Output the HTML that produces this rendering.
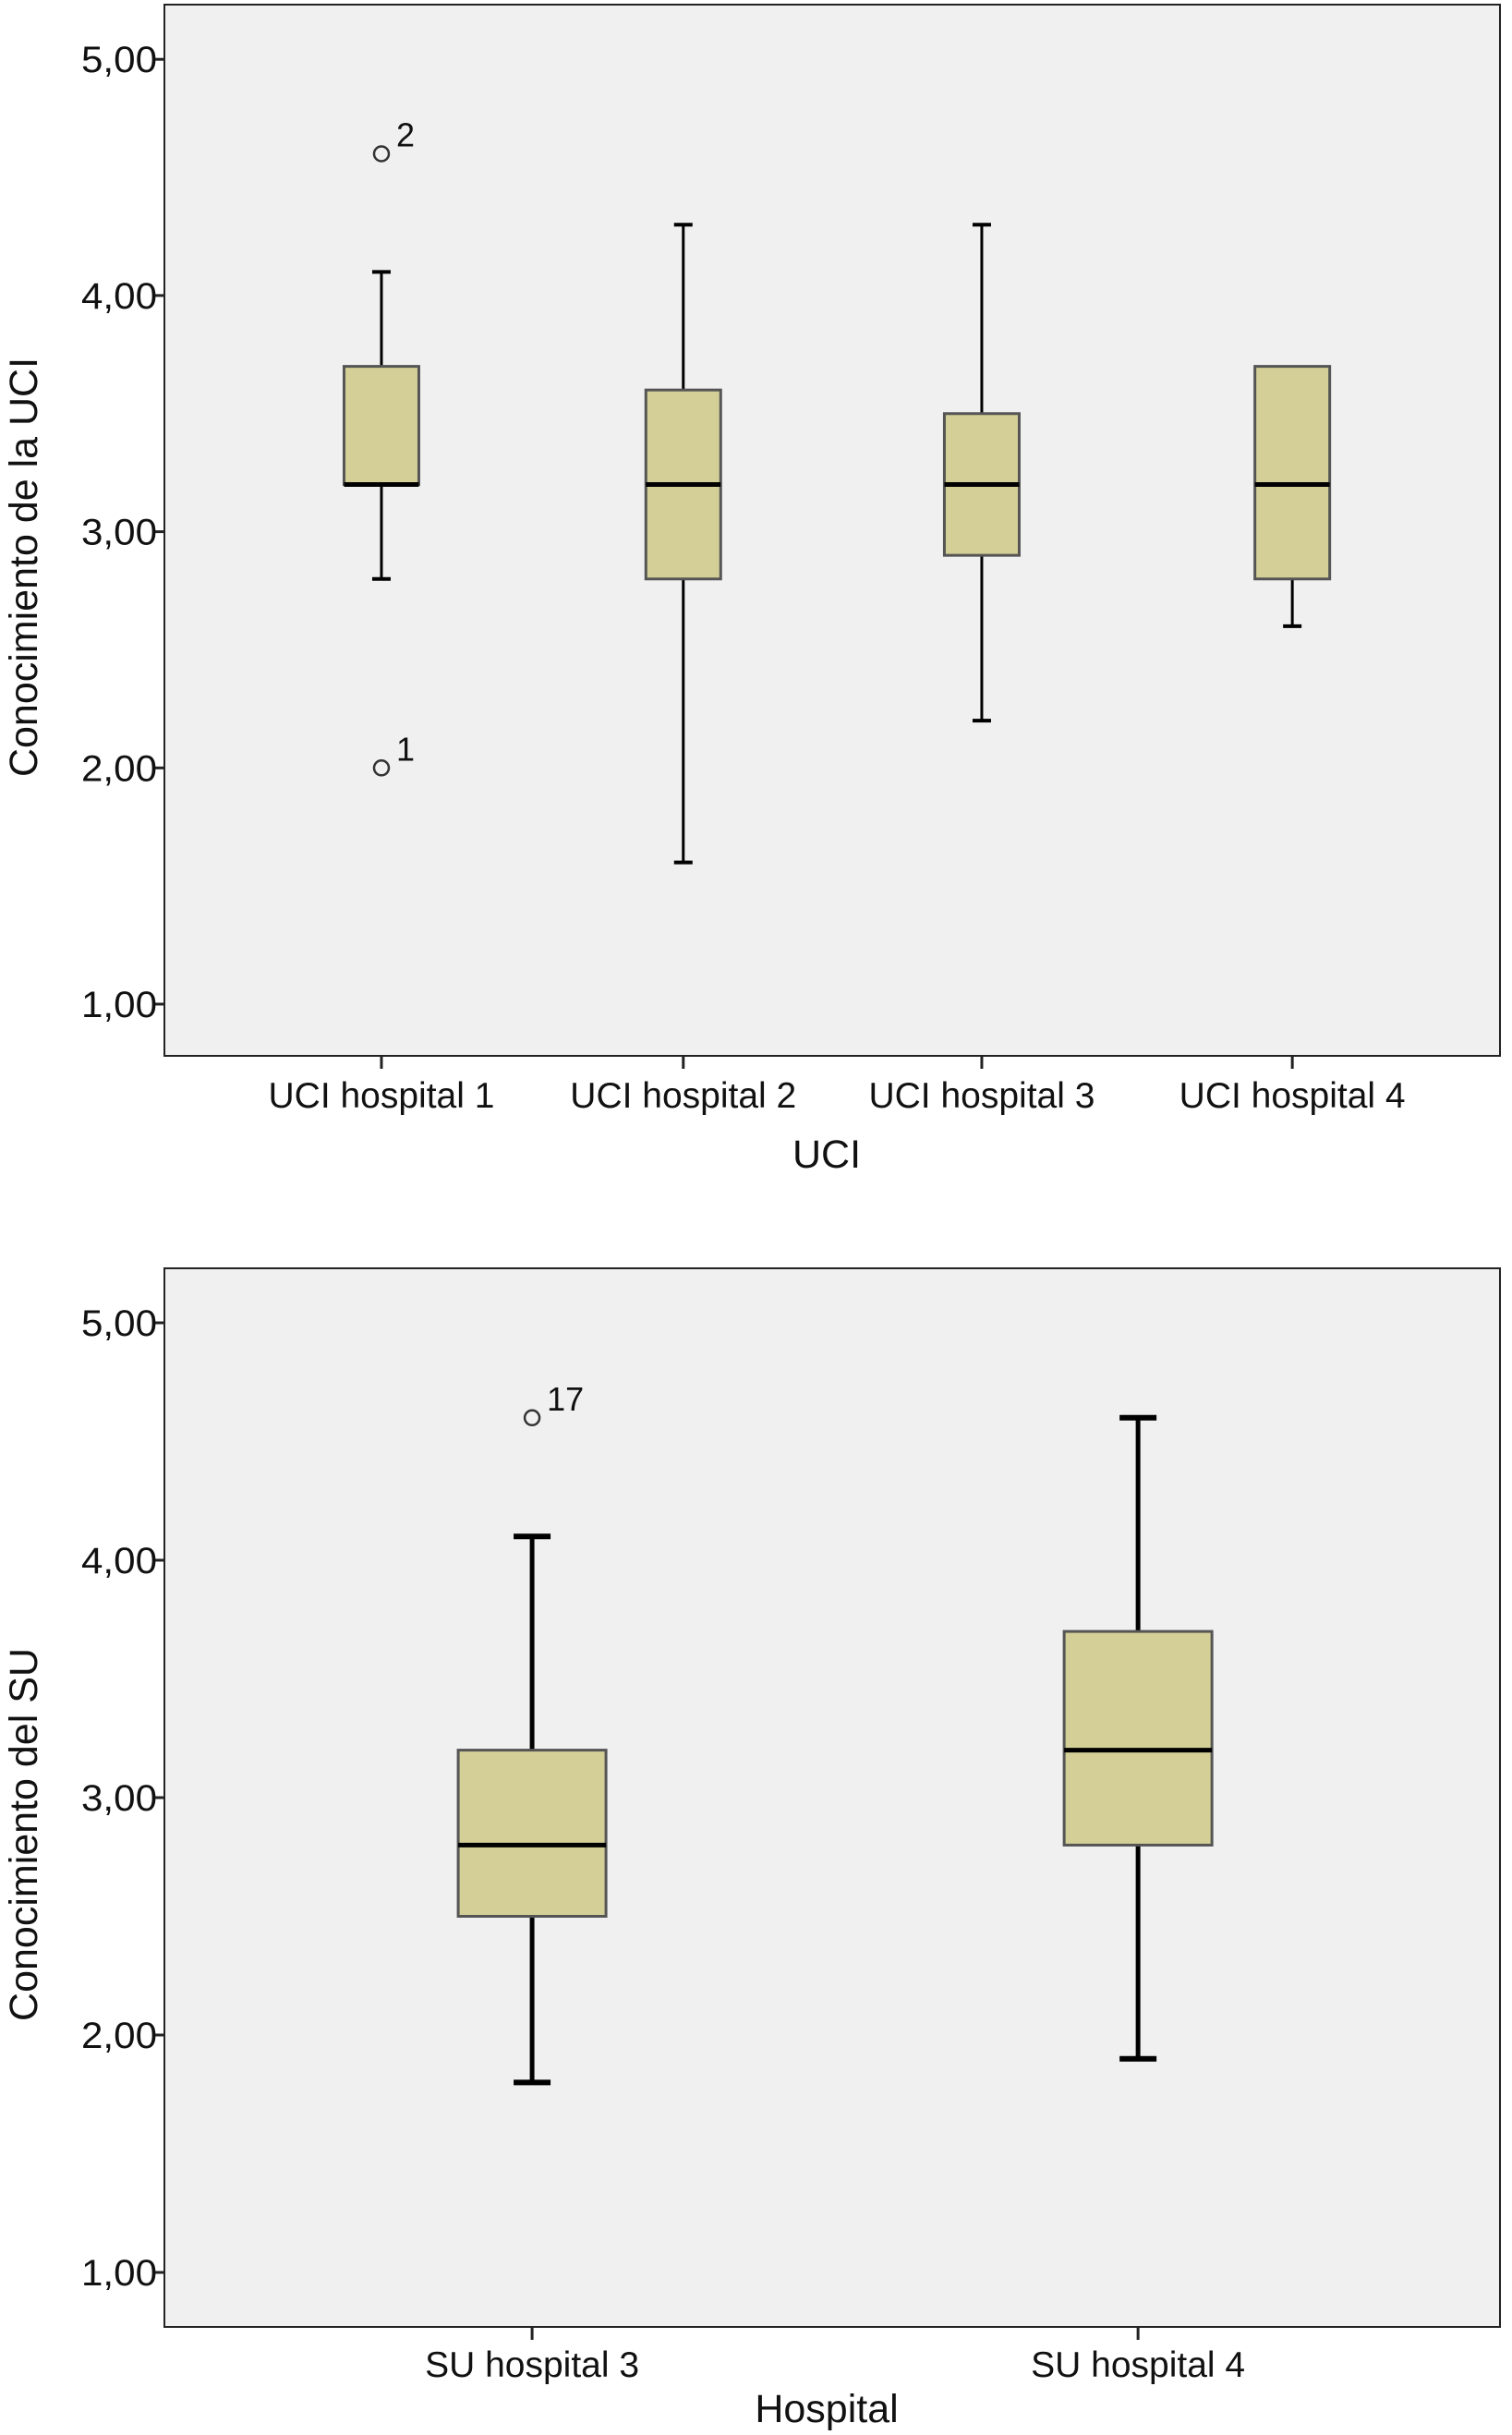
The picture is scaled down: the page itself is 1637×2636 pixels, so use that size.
<!DOCTYPE html>
<html><head><meta charset="utf-8">
<style>
html,body{margin:0;padding:0;background:#fff;}
svg{display:block;font-family:"Liberation Sans",sans-serif;}
</style></head>
<body>
<svg id="chart" width="1637" height="2636" viewBox="0 0 1637 2636" xmlns="http://www.w3.org/2000/svg"></svg>
<script>
// Top chart data
const topCategories = ["UCI hospital 1","UCI hospital 2","UCI hospital 3","UCI hospital 4"];
const topWhiskerLow = [2.8, 1.6, 2.2, 2.6];
const topQ1 = [3.2, 2.8, 2.9, 2.8];
const topMedian = [3.2, 3.2, 3.2, 3.2];
const topQ3 = [3.7, 3.6, 3.5, 3.7];
const topWhiskerHigh = [4.1, 4.3, 4.3, 3.7];
const topOutlierCat = [0, 0];
const topOutlierVal = [4.6, 2.0];
const topOutlierLabel = ["2", "1"];
// Bottom chart data
const botCategories = ["SU hospital 3","SU hospital 4"];
const botWhiskerLow = [1.8, 1.9];
const botQ1 = [2.5, 2.8];
const botMedian = [2.8, 3.2];
const botQ3 = [3.2, 3.7];
const botWhiskerHigh = [4.1, 4.6];
const botOutlierCat = [0];
const botOutlierVal = [4.6];
const botOutlierLabel = ["17"];
const tickValues = [1, 2, 3, 4, 5];
const tickLabels = ["1,00","2,00","3,00","4,00","5,00"];

const NS = "http://www.w3.org/2000/svg";
const svg = document.getElementById("chart");
function mk(tag, attrs, parent, text) {
  const e = document.createElementNS(NS, tag);
  for (const k in attrs) e.setAttribute(k, attrs[k]);
  if (text !== undefined) e.textContent = text;
  (parent || svg).appendChild(e);
  return e;
}

function drawChart(cfg) {
  const g = mk("g", {});
  
  
  const y = v => cfg.y1 - (v - 1) * cfg.unit;
  const n = cfg.cats.length;
  const x = i => cfg.left + (cfg.right - cfg.left) * cfg.pos[i];
  const frame = mk("rect", {x: cfg.left, y: cfg.top, width: cfg.right - cfg.left, height: cfg.bottom - cfg.top, fill: "#f0f0f0", stroke: "#222", "stroke-width": 2}, g);
  
  
  tickValues.forEach((v, i) => {
    const t = mk("line", {x1: cfg.left - 10, x2: cfg.left, y1: y(v), y2: y(v), stroke: "#222", "stroke-width": 3}, g);
    
    
    const l = mk("text", {x: cfg.left - 8, y: y(v) + 14, "text-anchor": "end", "font-size": 40, fill: "#111", textLength: 82, lengthAdjust: "spacingAndGlyphs"}, g, tickLabels[i]);
    
    
  });
  for (let i = 0; i < n; i++) {
    const cx = x(i);
    const t = mk("line", {x1: cx, x2: cx, y1: cfg.bottom, y2: cfg.bottom + 14, stroke: "#222", "stroke-width": 3}, g);
    
    
    const l = mk("text", {x: cx, y: cfg.labelY, "text-anchor": "middle", "font-size": 39, fill: "#111"}, g, cfg.cats[i]);
    
    
    const sw = cfg.lw;
    const w1 = mk("line", {x1: cx, x2: cx, y1: y(cfg.hi[i]), y2: y(cfg.q3[i]), stroke: "#000", "stroke-width": sw}, g);
    
    
    const w2 = mk("line", {x1: cx, x2: cx, y1: y(cfg.q1[i]), y2: y(cfg.lo[i]), stroke: "#000", "stroke-width": sw}, g);
    
    
    const caps = [];
    if (cfg.hi[i] !== cfg.q3[i]) caps.push(cfg.hi[i]);
    if (cfg.lo[i] !== cfg.q1[i]) caps.push(cfg.lo[i]);
    caps.forEach(v => {
      const c = mk("line", {x1: cx - cfg.cap / 2, x2: cx + cfg.cap / 2, y1: y(v), y2: y(v), stroke: "#000", "stroke-width": sw + 1}, g);
      
      
    });
    const b = mk("rect", {x: cx - cfg.bw / 2, y: y(cfg.q3[i]), width: cfg.bw, height: y(cfg.q1[i]) - y(cfg.q3[i]), fill: "#d3cf97", stroke: "#555", "stroke-width": 3}, g);
    
    
    const m = mk("line", {x1: cx - cfg.bw / 2, x2: cx + cfg.bw / 2, y1: y(cfg.med[i]), y2: y(cfg.med[i]), stroke: "#000", "stroke-width": 5}, g);
    
    
  }
  cfg.oCat.forEach((ci, k) => {
    const cx = x(ci), cy = y(cfg.oVal[k]);
    const o = mk("circle", {cx: cx, cy: cy, r: 8, fill: "none", stroke: "#333", "stroke-width": 2.5}, g);
    
    
    const ol = mk("text", {x: cx + 16, y: cy - 8, "font-size": 36, fill: "#111"}, g, cfg.oLab[k]);
    
    
  });
  const xt = mk("text", {x: (cfg.left + cfg.right) / 2 - 6, y: cfg.xTitleY, "text-anchor": "middle", "font-size": 43, fill: "#111"}, g, cfg.xTitle);
  
  
  const yc = (cfg.top + cfg.bottom) / 2 + 40;
  const yt = mk("text", {x: 40, y: yc, "text-anchor": "middle", "font-size": 43, fill: "#111", transform: "rotate(-90 40 " + yc + ")"}, g, cfg.yTitle);
  
  
}

drawChart({name: "uci-chart", cats: topCategories, lo: topWhiskerLow, q1: topQ1, med: topMedian, q3: topQ3, hi: topWhiskerHigh,
  oCat: topOutlierCat, oVal: topOutlierVal, oLab: topOutlierLabel,
  left: 178, right: 1624, top: 5, bottom: 1143, y1: 1087, unit: 255.7,
  pos: [0.1625, 0.3885, 0.612, 0.8445], bw: 81, cap: 20, lw: 3,
  labelY: 1199, xTitleY: 1264, xTitle: "UCI", yTitle: "Conocimiento de la UCI"});

drawChart({name: "su-chart", cats: botCategories, lo: botWhiskerLow, q1: botQ1, med: botMedian, q3: botQ3, hi: botWhiskerHigh,
  oCat: botOutlierCat, oVal: botOutlierVal, oLab: botOutlierLabel,
  left: 178, right: 1624, top: 1373, bottom: 2519, y1: 2460, unit: 257,
  pos: [0.2753, 0.7290], bw: 160, cap: 40, lw: 5,
  labelY: 2573, xTitleY: 2622, xTitle: "Hospital", yTitle: "Conocimiento del SU"});
</script>
</body></html>
